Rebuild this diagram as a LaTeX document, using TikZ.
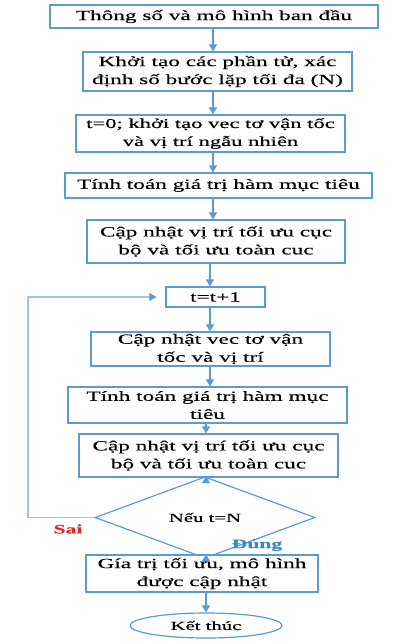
\documentclass[tikz,border=0pt]{standalone}
\usepackage{fontspec}
\setmainfont[FakeStretch=1.66,FakeBold=0.25]{Liberation Serif}
\usetikzlibrary{arrows.meta,shapes.geometric,calc}
\definecolor{bxc}{HTML}{5B9BD5}
\definecolor{lpc}{HTML}{A4C2E6}
\definecolor{saic}{HTML}{E8262A}
\definecolor{dungc}{HTML}{3A86CC}
\begin{document}
\begin{tikzpicture}[x=1pt,y=-1pt,
  box/.style={draw=bxc,line width=1.2pt,fill=white,inner sep=0pt,align=center,
    font=\fontsize{14}{18}\selectfont},
  smallbox/.style={box,font=\fontsize{12.5}{16}\selectfont},
  arr/.style={draw=bxc,line width=1.2pt,-{Triangle[width=8pt,length=7pt]}},
  loopline/.style={draw=lpc,line width=1.2pt,-{Triangle[width=8pt,length=7pt,color=bxc]}},
  lbl/.style={font=\fontsize{13}{15}\selectfont\bfseries,inner sep=0pt}
]
\useasboundingbox[fill=white] (0,0) rectangle (403,644);

\node[box,minimum width=328pt,minimum height=23pt] (b1) at (214,16.5) {Thông số và mô hình ban đầu};
\node[box,minimum width=269pt,minimum height=39pt] (b2) at (217.5,71.5) {Khởi tạo các phần tử, xác\\định số bước lặp tối đa (N)};
\node[box,minimum width=269pt,minimum height=37pt,font=\fontsize{13.6}{18}\selectfont] (b3) at (210.5,133.5) {t=0; khởi tạo vec tơ vận tốc\\và vị trí ngẫu nhiên};
\node[box,minimum width=307pt,minimum height=25pt] (b4) at (218.5,185.5) {Tính toán giá trị hàm mục tiêu};
\node[box,minimum width=258pt,minimum height=43pt] (b5) at (216,241.5) {Cập nhật vị trí tối ưu cục\\bộ và tối ưu toàn cuc};
\node[box,minimum width=99pt,minimum height=20pt] (b6) at (215.5,297) {t=t+1};
\node[box,minimum width=239pt,minimum height=34pt] (b7) at (210.5,349) {Cập nhật vec tơ vận\\tốc và vị trí};
\node[box,minimum width=279pt,minimum height=36pt] (b8) at (207.5,405) {Tính toán giá trị hàm mục\\tiêu};
\node[box,minimum width=259pt,minimum height=43pt] (b9) at (208.5,455.5) {Cập nhật vị trí tối ưu cục\\bộ và tối ưu toàn cuc};
\node[smallbox,shape=diamond,minimum width=220pt,minimum height=49pt] (dm) at (205,517.5) {Nếu t=N};
\node[box,minimum width=232pt,minimum height=37pt] (b10) at (202,573.5) {Gía trị tối ưu, mô hình\\được cập nhật};
\node[smallbox,shape=ellipse,minimum width=152pt,minimum height=25pt] (en) at (206,625.5) {Kết thúc};

\coordinate (xa) at (213,0);
\coordinate (xb) at (210,0);
\coordinate (xc) at (206,0);
\coordinate (lx) at (28,0);

\draw[arr] (b1.south -| xa) -- (b2.north -| xa);
\draw[arr] (b2.south -| xa) -- (b3.north -| xa);
\draw[arr] (b3.south -| xa) -- (b4.north -| xa);
\draw[arr] (b4.south -| xa) -- (b5.north -| xa);
\draw[arr] (b5.south -| xb) -- (b6.north -| xb);
\draw[arr] (b6.south -| xb) -- (b7.north -| xb);
\draw[arr] (b7.south -| xb) -- (b8.north -| xb);
\draw[arr] (b8.south -| xc) -- (b9.north -| xc);
\draw[arr] (b9.south -| xc) -- (dm.north -| xc);
\draw[arr] (dm.south -| xc) -- (b10.north -| xc);
\draw[arr] (b10.south -| xc) -- (en.north -| xc);
\draw[loopline,shorten >=9pt] (dm.west) -- (dm.west -| lx) |- (b6.west);

\node[lbl,text=saic] (sai) at (68,529) {Sai};
\node[lbl,text=dungc] (dung) at (257,545) {Đúng};
\end{tikzpicture}
\end{document}
